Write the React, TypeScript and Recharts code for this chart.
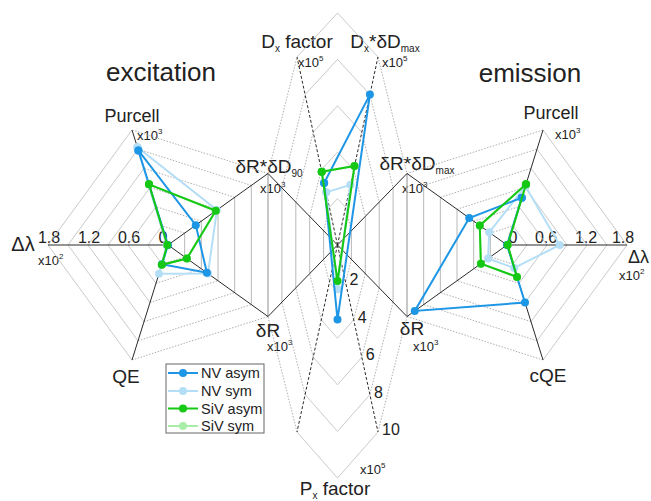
import React from "react";
import { ScatterChart, Scatter, XAxis, YAxis, ReferenceLine, Customized } from "recharts";

// ---------------- data ----------------
const excitationAxes = ["Purcell", "Δλ", "QE", "δR", "δR*δD90"];
const emissionAxes = ["Purcell", "Δλ", "cQE", "δR", "δR*δDmax"];
const centerAxes = ["Dx factor", "Dx*δDmax", "Px factor"];
const seriesNames = ["NV asym", "NV sym", "SiV asym", "SiV sym"];
const seriesColors = ["#1e96e6", "#b4def6", "#14c814", "#a8eea8"];

const radarMax = 1.8;
const centerMax = 10;
const deltaLambdaTicks = [0, 0.6, 1.2, 1.8];
const pxTicks = [2, 4, 6, 8, 10];

// excitation: Purcell, Δλ, QE, δR, δR*δD90 (all on 0..1.8 scale)
const excNVasym = [1.48, 0.0, 0.3, 0.7, 0.5];
const excNVsym = [1.53, 0.02, 0.45, 0.72, 0.88];
const excSiVasym = [0.95, 0.01, 0.31, 0.34, 0.86];
const excSiVsym = [0.95, 0.01, 0.31, 0.34, 0.86];

// emission: Purcell, Δλ, cQE, δR, δR*δDmax
const emNVasym = [0.74, 0.0, 0.9, 1.66, 0.68];
const emNVsym = [0.92, 0.79, 0.36, 0.34, 0.32];
const emSiVasym = [0.95, 0.01, 0.5, 0.47, 0.49];
const emSiVsym = [0.95, 0.01, 0.5, 0.47, 0.49];

// centre: Dx factor, Dx*δDmax, Px factor (0..10, x10^5)
const cNVasym = [3.3, 8.0, 3.2];
const cNVsym = [2.8, 3.2, 1.9];
const cSiVasym = [3.9, 4.2, 1.55];
const cSiVsym = [3.9, 4.2, 1.55];

// ---------------- layout ----------------
type P = { x: number; y: number };
const LC: P = { x: 168, y: 245 };
const MC: P = { x: 337.5, y: 245 };
const RC: P = { x: 507, y: 245 };
const leftVec = [[-36, -115], [-120, 0], [-36, 115], [100, 71.5], [100, -71.5]];
const rightVec = leftVec.map(([a, b]) => [-a, b]);
const centerDataVec = [[-40.5, -188], [40.5, -188], [0, 233]];
// centre grid spokes clockwise from top
const midSpokes = [
  [0, -232], [40.5, -188], [69.5, -71.5], [69.5, 71.5], [40.5, 187],
  [0, 233], [-40.5, 187], [-69.5, 71.5], [-69.5, -71.5], [-40.5, -188],
];
const midSegStyle = ["s", "d", "v", "d", "s", "s", "d", "v", "d", "s"];

const pol = (c: P, v: number[], f: number): P => ({ x: c.x + v[0] * f, y: c.y + v[1] * f });

const closed = (pts: P[]) => [...pts, pts[0]];
const radarPts = (c: P, vecs: number[][], vals: number[], max: number) =>
  closed(vals.map((v, i) => pol(c, vecs[i], v / max)));

type Seg = { a: P; b: P; kind: string };
const segs: Seg[] = [];
// left & right rings: order dRdD(4) -> purcell(0) -> dl(1) -> qe(2) -> dR(3) -> dRdD(4)
const sideOrder = [4, 0, 1, 2, 3, 4];
const sideStyle = ["d", "s", "s", "d", "v"];
for (const [c, vecs] of [[LC, leftVec], [RC, rightVec]] as [P, number[][]][]) {
  for (let k = 1; k <= 6; k++) {
    const f = k / 6;
    for (let i = 0; i < 5; i++) {
      segs.push({ a: pol(c, vecs[sideOrder[i]], f), b: pol(c, vecs[sideOrder[i + 1]], f), kind: sideStyle[i] });
    }
  }
}
for (let k = 1; k <= 5; k++) {
  const f = k / 5;
  for (let i = 0; i < 10; i++) {
    segs.push({ a: pol(MC, midSpokes[i], f), b: pol(MC, midSpokes[(i + 1) % 10], f), kind: midSegStyle[i] });
  }
}
// axes
for (const [c, vecs] of [[LC, leftVec], [RC, rightVec]] as [P, number[][]][]) {
  vecs.forEach((v) => segs.push({ a: c, b: pol(c, v, 1), kind: "axis" }));
}
[2, 3, 7, 8].forEach((i) => segs.push({ a: MC, b: pol(MC, midSpokes[i], 1), kind: "axis" }));
[1, 4, 6, 9].forEach((i) => segs.push({ a: MC, b: pol(MC, midSpokes[i], 1), kind: "dash" }));

const segStyle: Record<string, any> = {
  s: { stroke: "#bdbdbd", strokeWidth: 0.8 },
  v: { stroke: "#b0b0b0", strokeWidth: 0.9 },
  d: { stroke: "#9a9a9a", strokeWidth: 0.8, strokeDasharray: "1.5 1.5" },
  axis: { stroke: "#2a2a2a", strokeWidth: 1 },
  dash: { stroke: "#2a2a2a", strokeWidth: 1, strokeDasharray: "3 2" },
};

const excSeries = [excSiVsym, excNVsym, excNVasym, excSiVasym];
const emSeries = [emSiVsym, emNVsym, emNVasym, emSiVasym];
const cSeries = [cSiVsym, cNVsym, cNVasym, cSiVasym];
const drawOrder = [3, 1, 0, 2]; // index into seriesNames/colors

const FONT = "'Liberation Sans', Arial, sans-serif";

const Sup = ({ t }: { t: string }) => (
  <tspan dy={-6} fontSize={8}>{t}</tspan>
);

const Mult = ({ x, y, e }: { x: number; y: number; e: string }) => (
  <text x={x} y={y} fontSize={13} fill="#222" fontFamily={FONT}>
    x10<Sup t={e} />
  </text>
);

const Labels = () => {
  const t = (x: number, y: number, s: any, size = 19, anchor = "middle") => (
    <text x={x} y={y} fontSize={size} textAnchor={anchor} fill="#222" fontFamily={FONT}>{s}</text>
  );
  const rowY = [373, 391, 408.5, 426];
  return (
    <g>
      {t(161, 81, "excitation", 26)}
      {t(530, 82, "emission", 26)}
      {t(132, 122, excitationAxes[0], 18)}
      <Mult x={137} y={140} e="3" />
      {t(551, 119, emissionAxes[0], 18)}
      <Mult x={555} y={139} e="3" />
      {t(23, 251, emissionAxes[1], 20)}
      <Mult x={38} y={265} e="2" />
      {t(628, 263, emissionAxes[1], 18, "start")}
      <Mult x={619} y={280} e="2" />
      {t(126, 383, excitationAxes[2])}
      {t(548, 382, emissionAxes[2])}
      {t(268, 337, excitationAxes[3])}
      <Mult x={267} y={351} e="3" />
      {t(412, 335, emissionAxes[3])}
      <Mult x={413} y={351} e="3" />
      <text x={269} y={173} fontSize={19} textAnchor="middle" fill="#222" fontFamily={FONT}>
        δR*δD<tspan dy={4} fontSize={10}>90</tspan>
      </text>
      <Mult x={260} y={193} e="3" />
      <text x={417} y={170} fontSize={19} textAnchor="middle" fill="#222" fontFamily={FONT}>
        δR*δD<tspan dy={4} fontSize={10}>max</tspan>
      </text>
      <Mult x={402} y={193} e="3" />
      <text x={297} y={48} fontSize={19} textAnchor="middle" fill="#222" fontFamily={FONT}>
        D<tspan dy={4} fontSize={10}>x</tspan><tspan dy={-4}> factor</tspan>
      </text>
      <Mult x={298} y={67} e="5" />
      <text x={385} y={48} fontSize={19} textAnchor="middle" fill="#222" fontFamily={FONT}>
        D<tspan dy={4} fontSize={10}>x</tspan><tspan dy={-4}>*δD</tspan><tspan dy={4} fontSize={10}>max</tspan>
      </text>
      <Mult x={382} y={67} e="5" />
      <text x={335} y={495} fontSize={19} textAnchor="middle" fill="#222" fontFamily={FONT}>
        P<tspan dy={4} fontSize={10}>x</tspan><tspan dy={-4}> factor</tspan>
      </text>
      <Mult x={360} y={474} e="5" />
      {deltaLambdaTicks.map((v, i) => {
        const pl = pol(LC, leftVec[1], v / radarMax);
        const pr = pol(RC, rightVec[1], v / radarMax);
        return (
          <g key={"dl" + i}>
            {t(pl.x + (i === 0 ? -5 : 1), 243, String(v), 16)}
            {t(pr.x + (i === 0 ? 6 : i === 3 ? -4 : -1), 243, String(v), 16)}
          </g>
        );
      })}
      {pxTicks.map((v, i) => {
        const p = pol(MC, midSpokes[4], v / centerMax);
        return <g key={"px" + i}>{t(p.x + 4, p.y + 3, String(v), 16, "start")}</g>;
      })}
      <rect x={166} y={364} width={98} height={69} fill="#fff" stroke="#666" strokeWidth={1} />
      {seriesNames.map((n, i) => (
        <g key={n}>
          <line x1={168} x2={198} y1={rowY[i]} y2={rowY[i]} stroke={seriesColors[i]} strokeWidth={2} />
          <circle cx={183} cy={rowY[i]} r={4} fill={seriesColors[i]} />
          <text x={201} y={rowY[i] + 5} fontSize={14.5} fill="#222" fontFamily={FONT}>{n}</text>
        </g>
      ))}
    </g>
  );
};

export default function App() {
  const dot = (color: string) => (props: any) =>
    props.cx == null ? <g /> : <circle cx={props.cx} cy={props.cy} r={4} fill={color} />;
  const groups: { key: string; pts: P[]; color: string }[] = [];
  drawOrder.forEach((si, k) => {
    const color = seriesColors[si];
    groups.push({ key: "e" + si, pts: radarPts(LC, leftVec, excSeries[k], radarMax), color });
    groups.push({ key: "m" + si, pts: radarPts(RC, rightVec, emSeries[k], radarMax), color });
    groups.push({ key: "c" + si, pts: radarPts(MC, centerDataVec, cSeries[k], centerMax), color });
  });
  return (
    <div style={{ position: "absolute", left: 0, top: 0, width: 651, height: 501, background: "#fff" }}>
      <ScatterChart width={651} height={501} margin={{ top: 0, right: 0, bottom: 0, left: 0 }}>
        <XAxis type="number" dataKey="x" domain={[0, 651]} hide allowDataOverflow />
        <YAxis type="number" dataKey="y" domain={[0, 501]} reversed hide allowDataOverflow />
        {segs.map((s, i) => (
          <ReferenceLine key={"g" + i} segment={[s.a, s.b]} {...segStyle[s.kind]} ifOverflow="visible" />
        ))}
        {groups.map((g) => (
          <Scatter
            key={g.key}
            data={g.pts}
            line={{ stroke: g.color, strokeWidth: 2 }}
            shape={dot(g.color)}
            fill={g.color}
            isAnimationActive={false}
          />
        ))}
        <Customized component={Labels} />
      </ScatterChart>
    </div>
  );
}
